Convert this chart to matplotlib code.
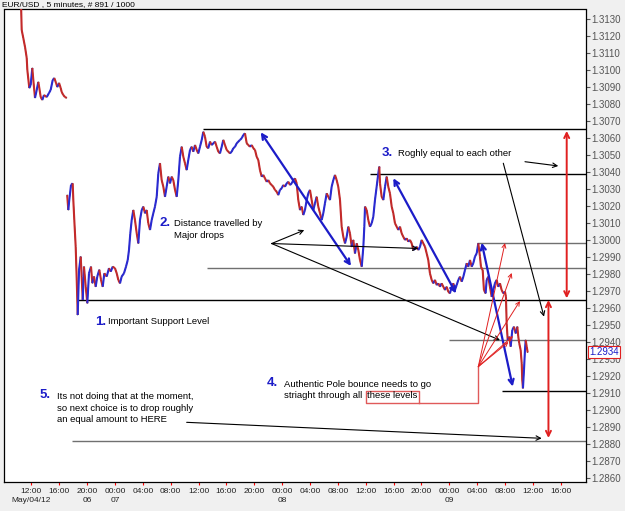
import matplotlib.pyplot as plt
import matplotlib.transforms as mtransforms
from matplotlib.collections import LineCollection

plt.rcParams['font.family'] = ['Liberation Sans', 'DejaVu Sans']

TITLE = 'EUR/USD , 5 minutes, # 891 / 1000'
LAST_PRICE = 1.2934

# (hours after 12:00 May/04, price) - weekend gap is compressed like on the platform
friday_bars = [
    (-1.48, 1.31400), (-1.38, 1.31235), (-1.15, 1.31188), (-0.90, 1.31135), (-0.66, 1.31071),
    (-0.57, 1.31000), (-0.29, 1.30894), (-0.09, 1.30912), (0.14, 1.31012), (0.29, 1.30941),
    (0.53, 1.30836), (0.78, 1.30883), (1.00, 1.30930), (1.15, 1.30894), (1.35, 1.30841),
    (1.58, 1.30824), (1.82, 1.30853), (2.21, 1.30841), (2.54, 1.30865), (2.78, 1.30883),
    (3.07, 1.30941), (3.30, 1.30953), (3.55, 1.30924), (3.73, 1.30900), (3.98, 1.30924),
    (4.22, 1.30894), (4.36, 1.30871), (4.59, 1.30853), (4.84, 1.30841), (5.08, 1.30836),
]

week_bars = [
    (5.15, 1.30265), (5.31, 1.30177), (5.45, 1.30236), (5.70, 1.30324), (5.94, 1.30334),
    (6.03, 1.30236), (6.17, 1.30118), (6.37, 1.29961), (6.52, 1.29766), (6.60, 1.29648),
    (6.66, 1.29560), (6.85, 1.29824), (7.09, 1.29903), (7.23, 1.29785), (7.38, 1.29648),
    (7.56, 1.29844), (7.81, 1.29726), (8.04, 1.29629), (8.28, 1.29805), (8.57, 1.29844),
    (8.76, 1.29747), (9.00, 1.29786), (9.24, 1.29726), (9.47, 1.29786), (9.76, 1.29826),
    (10.00, 1.29767), (10.25, 1.29726), (10.48, 1.29805), (10.82, 1.29786), (11.15, 1.29835),
    (11.40, 1.29815), (11.68, 1.29844), (12.01, 1.29835), (12.26, 1.29805), (12.49, 1.29766),
    (12.73, 1.29746), (12.97, 1.29786), (13.30, 1.29805), (13.59, 1.29844), (13.84, 1.29883),
    (14.02, 1.29942), (14.21, 1.30040), (14.41, 1.30118), (14.64, 1.30177), (14.88, 1.30118),
    (15.13, 1.30040), (15.36, 1.29981), (15.60, 1.30118), (15.85, 1.30177), (16.08, 1.30197),
    (16.32, 1.30158), (16.56, 1.30177), (16.79, 1.30099), (17.04, 1.30060), (17.28, 1.30118),
    (17.51, 1.30158), (17.75, 1.30197), (18.00, 1.30255), (18.23, 1.30393), (18.47, 1.30452),
    (18.71, 1.30353), (18.95, 1.30314), (19.19, 1.30255), (19.43, 1.30314), (19.66, 1.30373),
    (19.91, 1.30334), (20.15, 1.30373), (20.38, 1.30353), (20.63, 1.30295), (20.87, 1.30255),
    (21.10, 1.30353), (21.34, 1.30490), (21.59, 1.30549), (21.82, 1.30490), (22.06, 1.30452),
    (22.30, 1.30412), (22.53, 1.30471), (22.78, 1.30530), (23.02, 1.30549), (23.25, 1.30520),
    (23.50, 1.30559), (23.74, 1.30530), (23.97, 1.30510), (24.21, 1.30549), (24.46, 1.30589),
    (24.69, 1.30637), (24.93, 1.30608), (25.17, 1.30549), (25.40, 1.30540), (25.65, 1.30579),
    (25.89, 1.30559), (26.12, 1.30569), (26.37, 1.30579), (26.61, 1.30549), (26.84, 1.30520),
    (27.08, 1.30510), (27.33, 1.30549), (27.56, 1.30589), (27.80, 1.30559), (28.05, 1.30530),
    (28.28, 1.30520), (28.52, 1.30510), (28.76, 1.30520), (28.99, 1.30540), (29.24, 1.30549),
    (29.48, 1.30569), (29.71, 1.30579), (29.95, 1.30589), (30.20, 1.30599), (30.43, 1.30618),
    (30.67, 1.30628), (30.92, 1.30569), (31.15, 1.30559), (31.39, 1.30549), (31.64, 1.30559),
    (31.87, 1.30540), (32.11, 1.30530), (32.35, 1.30490), (32.58, 1.30471), (32.82, 1.30412),
    (33.07, 1.30373), (33.30, 1.30383), (33.54, 1.30363), (33.79, 1.30343), (34.02, 1.30353),
    (34.26, 1.30334), (34.50, 1.30324), (34.73, 1.30314), (34.98, 1.30295), (35.22, 1.30285),
    (35.45, 1.30265), (35.69, 1.30295), (35.94, 1.30305), (36.17, 1.30324), (36.41, 1.30314),
    (36.66, 1.30334), (36.89, 1.30343), (37.13, 1.30324), (37.38, 1.30334), (37.61, 1.30353),
    (37.85, 1.30363), (38.09, 1.30334), (38.32, 1.30236), (38.57, 1.30177), (38.81, 1.30197),
    (39.04, 1.30148), (39.28, 1.30177), (39.53, 1.30236), (39.76, 1.30275), (40.00, 1.30295),
    (40.24, 1.30236), (40.48, 1.30177), (40.72, 1.30217), (40.96, 1.30255), (41.19, 1.30197),
    (41.44, 1.30158), (41.68, 1.30118), (41.91, 1.30158), (42.15, 1.30217), (42.40, 1.30275),
    (42.63, 1.30255), (42.87, 1.30236), (43.11, 1.30314), (43.35, 1.30353), (43.59, 1.30383),
    (43.83, 1.30353), (44.06, 1.30314), (44.31, 1.30236), (44.55, 1.30079), (44.78, 1.30020),
    (45.03, 1.29981), (45.27, 1.30020), (45.50, 1.30079), (45.74, 1.30040), (45.99, 1.29961),
    (46.22, 1.30001), (46.46, 1.29922), (46.71, 1.29981), (46.94, 1.29942), (47.18, 1.29883),
    (47.43, 1.29844), (47.66, 1.29961), (47.80, 1.30079), (47.90, 1.30197), (48.14, 1.30177),
    (48.37, 1.30118), (48.61, 1.30079), (48.86, 1.30099), (49.09, 1.30138), (49.33, 1.30236),
    (49.57, 1.30314), (49.81, 1.30393), (49.95, 1.30432), (50.05, 1.30334), (50.29, 1.30255),
    (50.53, 1.30236), (50.77, 1.30314), (51.01, 1.30373), (51.24, 1.30314), (51.48, 1.30275),
    (51.73, 1.30197), (51.96, 1.30158), (52.20, 1.30099), (52.45, 1.30079), (52.68, 1.30060),
    (52.92, 1.30079), (53.16, 1.30040), (53.39, 1.30020), (53.64, 1.30001), (53.88, 1.30011),
    (54.11, 1.29991), (54.35, 1.30001), (54.60, 1.29981), (54.83, 1.29942), (55.07, 1.29952),
    (55.32, 1.29961), (55.55, 1.29942), (55.79, 1.29961), (56.03, 1.30001), (56.26, 1.29981),
    (56.51, 1.29961), (56.75, 1.29922), (56.98, 1.29883), (57.22, 1.29805), (57.47, 1.29766),
    (57.70, 1.29746), (57.94, 1.29766), (58.19, 1.29736), (58.42, 1.29746), (58.66, 1.29726),
    (58.90, 1.29746), (59.14, 1.29726), (59.38, 1.29707), (59.62, 1.29726), (59.85, 1.29697),
    (60.09, 1.29687), (60.34, 1.29726), (60.57, 1.29746), (60.81, 1.29707), (61.06, 1.29736),
    (61.29, 1.29766), (61.53, 1.29785), (61.78, 1.29756), (62.01, 1.29785), (62.25, 1.29824),
    (62.49, 1.29864), (62.72, 1.29844), (62.97, 1.29883), (63.21, 1.29844), (63.44, 1.29864),
    (63.68, 1.29903), (63.93, 1.29922), (64.16, 1.29981), (64.40, 1.29903), (64.54, 1.29844),
    (64.79, 1.29824), (64.97, 1.29707), (65.21, 1.29687), (65.36, 1.29766), (65.59, 1.29785),
    (65.83, 1.29726), (66.08, 1.29667), (66.31, 1.29707), (66.55, 1.29746), (66.79, 1.29766),
    (67.03, 1.29726), (67.27, 1.29746), (67.51, 1.29707), (67.75, 1.29687), (67.99, 1.29697),
    (68.13, 1.29667), (68.23, 1.29511), (68.38, 1.29413), (68.61, 1.29432), (68.81, 1.29374),
    (69.04, 1.29472), (69.28, 1.29491), (69.53, 1.29452), (69.76, 1.29491), (69.90, 1.29432),
    (70.04, 1.29393), (70.24, 1.29354), (70.39, 1.29276), (70.47, 1.29178), (70.57, 1.29129),
    (70.72, 1.29237), (70.86, 1.29354), (70.96, 1.29413), (71.11, 1.29374), (71.25, 1.29340),
]

tick_hours = list(range(0, 80, 4))
tick_times = ['12:00', '16:00', '20:00', '00:00', '04:00', '08:00', '12:00', '16:00', '20:00', '00:00',
              '04:00', '08:00', '12:00', '16:00', '20:00', '00:00', '04:00', '08:00', '12:00', '16:00']
date_hours = [0, 8, 12, 36, 60]
date_labels = ['May/04/12', '06', '07', '08', '09']
price_ticks = [round(1.2860 + 0.001 * i, 4) for i in range(28)]

# horizontal levels drawn on the chart: price and the hour where each starts
level_prices = [1.30653, 1.30389, 1.29985, 1.29834, 1.29648, 1.29413, 1.29115, 1.28821]
level_starts = [24.64, 48.61, 63.93, 25.17, 6.52, 59.95, 67.56, 5.88]
level_dark = [True, True, False, False, True, False, True, False]

# annotation arrows ((hour, price) -> (hour, price))
blue_arrows = [((32.93, 1.30634), (45.89, 1.29848)),
               ((51.96, 1.30364), (60.96, 1.29687)),
               ((64.65, 1.29985), (69.10, 1.29139))]
red_arrows = [((76.85, 1.30642), (76.85, 1.29658)),
              ((74.23, 1.29648), (74.23, 1.28837))]
black_arrows = [((70.86, 1.30461), (75.64, 1.30436)),
                ((67.75, 1.30452), (73.59, 1.29550)),
                ((34.50, 1.29980), (39.18, 1.30059)),
                ((34.50, 1.29980), (55.55, 1.29951)),
                ((34.50, 1.29980), (67.27, 1.29412)),
                ((22.30, 1.28929), (73.26, 1.28835))]
fan_origin = (64.16, 1.29256)
fan_targets = [(67.99, 1.29983), (68.95, 1.29807), (70.14, 1.29642), (68.49, 1.29401), (69.14, 1.29436)]
box_path_t = [55.65, 55.65, 48.0, 48.0, 64.16, 64.16]
box_path_p = [1.29044, 1.29115, 1.29115, 1.29044, 1.29044, 1.29256]

note_numbers = [('1.', 9.14, 1.29520), ('2.', 18.34, 1.30101), ('3.', 50.29, 1.30510),
                ('4.', 33.83, 1.29160), ('5.', 1.25, 1.29090)]
note_lines = [('Important Support Level', 10.95, 1.29519),
              ('Distance travelled by', 20.44, 1.30095),
              ('Major drops', 20.44, 1.30026),
              ('Roghly equal to each other', 52.68, 1.30510),
              ('Authentic Pole bounce needs to go', 36.32, 1.29154),
              ('striaght through all', 36.32, 1.29084),
              ('these levels', 48.18, 1.29084),
              ('Its not doing that at the moment,', 3.69, 1.29080),
              ('so next choice is to drop roughly', 3.69, 1.29011),
              ('an equal amount to HERE', 3.69, 1.28947)]

X_LIM = (-3.92, 79.62)
Y_LIM = (1.285782, 1.313558)
BLUE = '#1c1cc8'
RED = '#e02020'


def draw_price(ax, bars):
    t = [b[0] for b in bars]
    p = [b[1] for b in bars]
    segs = [[(t[i], p[i]), (t[i + 1], p[i + 1])] for i in range(len(t) - 1)]
    cols = ['#2a2ad2' if p[i + 1] >= p[i] else '#c42a2a' for i in range(len(t) - 1)]
    ax.plot(t, p, color='black', lw=0.6, zorder=3)
    ax.add_collection(LineCollection(segs, colors=cols, linewidths=1.5, zorder=4))


def arrow(ax, start, end, style, color, lw, scale):
    ax.annotate('', xy=end, xytext=start,
                arrowprops=dict(arrowstyle=style, color=color, lw=lw, shrinkA=0, shrinkB=0,
                                mutation_scale=scale), zorder=6)


fig = plt.figure(figsize=(6.25, 5.11), dpi=100, facecolor='#f0f0f0')
ax = fig.add_axes([4 / 625, 1 - 482 / 511, 582 / 625, 472.5 / 511])
ax.set_facecolor('white')

for price, start, dark in zip(level_prices, level_starts, level_dark):
    ax.hlines(price, start, X_LIM[1], colors='black' if dark else '#707070', lw=1.0, zorder=2)

draw_price(ax, friday_bars)
draw_price(ax, week_bars)

for s, e in blue_arrows:
    arrow(ax, s, e, '<->', BLUE, 1.6, 9)
for s, e in red_arrows:
    arrow(ax, s, e, '<->', RED, 1.4, 9)
for s, e in black_arrows:
    arrow(ax, s, e, '->', 'black', 0.8, 8)
for target in fan_targets:
    arrow(ax, fan_origin, target, '->', RED, 0.7, 7)
ax.plot(box_path_t, box_path_p, color='#e05a5a', lw=1.0, zorder=5)

for label, t, p in note_numbers:
    ax.text(t, p, label, color=BLUE, fontsize=9.5, fontweight='bold', ha='left', va='center', zorder=7)
for label, t, p in note_lines:
    ax.text(t, p, label, color='black', fontsize=6.8, ha='left', va='center', zorder=7)

ax.set_xlim(*X_LIM)
ax.set_ylim(*Y_LIM)
ax.set_xticks(tick_hours)
ax.set_xticklabels(tick_times, fontsize=6)
ax.tick_params(axis='x', length=2, color='red', pad=2, labelcolor='#222222')
xtrans = mtransforms.blended_transform_factory(ax.transData, ax.transAxes)
for h, label in zip(date_hours, date_labels):
    ax.text(h, -0.040, label, transform=xtrans, fontsize=6, color='#222222', ha='center', va='center')

ax.yaxis.tick_right()
ax.set_yticks(price_ticks)
ax.set_yticklabels([f'{v:.4f}' for v in price_ticks], fontsize=7)
ax.tick_params(axis='y', length=3, color='#555555', pad=1, labelcolor='#555555')
for sp in ax.spines.values():
    sp.set_color('black')
    sp.set_linewidth(0.9)

trans = mtransforms.blended_transform_factory(ax.transAxes, ax.transData)
ax.text(1.005, LAST_PRICE, f'{LAST_PRICE:.4f}', transform=trans, color='#1c1cc8', fontsize=7,
        ha='left', va='center', zorder=8,
        bbox=dict(boxstyle='square,pad=0.1', fc='white', ec=RED, lw=0.8))

fig.text(2 / 625, 1 - 5 / 511, TITLE, fontsize=6, ha='left', va='center', color='black')

fig.savefig('out.png', dpi=100, facecolor=fig.get_facecolor())
